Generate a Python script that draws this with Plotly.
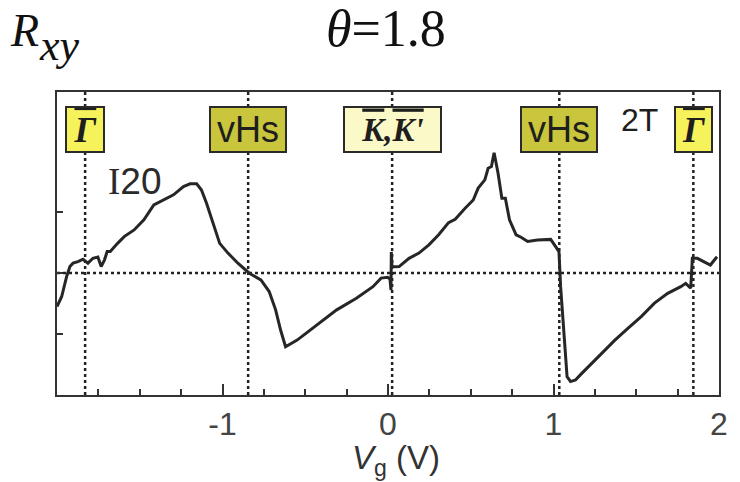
import plotly.graph_objects as go

# Gate voltage (V) and Hall resistance (arb., scale bar = 20)
vg = [-2.0, -1.972, -1.942, -1.922, -1.903, -1.873, -1.843, -1.813, -1.783, -1.753,
      -1.733, -1.713, -1.697, -1.678, -1.634, -1.594, -1.534, -1.475, -1.415, -1.355,
      -1.296, -1.236, -1.196, -1.156, -1.127, -1.097, -1.057, -1.017, -0.967, -0.907,
      -0.838, -0.768, -0.718, -0.679, -0.649, -0.619, -0.549, -0.430, -0.310, -0.191,
      -0.091, -0.042, -0.002, 0.012, 0.018, 0.020, 0.024, 0.040, 0.067, 0.127,
      0.187, 0.247, 0.306, 0.366, 0.406, 0.466, 0.515, 0.545, 0.585, 0.605,
      0.625, 0.641, 0.665, 0.688, 0.709, 0.734, 0.774, 0.804, 0.844, 0.903,
      0.963, 0.983, 1.013, 1.033, 1.043, 1.063, 1.082, 1.103, 1.133, 1.162,
      1.212, 1.291, 1.371, 1.451, 1.530, 1.610, 1.690, 1.769, 1.799, 1.829,
      1.839, 1.869, 1.948, 1.988]
rxy = [-11.0, -7.8, -1.2, 2.1, 3.2, 3.7, 4.5, 3.2, 4.8, 5.2,
       2.1, 4.3, 7.0, 7.0, 9.7, 11.9, 14.1, 17.4, 22.3, 23.9,
       25.6, 28.3, 29.2, 29.2, 27.2, 22.9, 16.3, 9.7, 6.5, 3.2,
       -0.1, -2.3, -6.1, -12.1, -18.7, -24.2, -22.0, -17.0, -12.1, -8.3,
       -4.5, -1.7, -1.4, -2.0, -5.6, 6.9, 2.2, 2.0, 2.1, 4.8,
       6.5, 9.2, 12.5, 16.5, 17.6, 21.2, 23.9, 27.8, 30.5, 34.3,
       34.9, 39.4, 32.7, 24.5, 24.5, 17.4, 12.5, 11.7, 10.3, 10.8,
       10.8, 11.0, 8.6, 7.0, -4.5, -20.9, -34.0, -35.6, -35.1, -33.4,
       -30.7, -26.3, -22.0, -18.1, -14.3, -9.9, -6.7, -4.5, -3.4, -5.0,
       4.8, 4.8, 2.6, 5.3]

# Special points (dotted markers) and their labels
OL = "<span style='text-decoration:overline'>{}</span>"
mark_v = [-1.830, -0.845, 0.025, 1.035, 1.845]
mark_labels = ["<b><i>" + OL.format("\u0393") + "</i></b>", "vHs",
               "<b><i>" + OL.format("K") + "," + OL.format("K'") + "</i></b>", "vHs",
               "<b><i>" + OL.format("\u0393") + "</i></b>"]
mark_colors = ["#f6f25c", "#c9c53c", "#fcf9c9", "#c9c53c", "#f6f25c"]
mark_fonts = ["Liberation Serif", "Liberation Sans", "Liberation Serif", "Liberation Sans", "Liberation Serif"]
mark_sizes = [36, 36, 33, 36, 36]
mark_widths = [36, 74, 95, 74, 35]

xtick_vals = [-1, 0, 1, 2]
xtick_text = ["-1", "0", "1", "2"]
ytick_vals = [-20, 0, 20]

fig = go.Figure()
fig.add_trace(go.Scatter(x=vg, y=rxy, mode="lines",
                         line=dict(color="#262626", width=3), showlegend=False))

for v in mark_v:
    fig.add_shape(type="line", xref="x", yref="paper", x0=v, x1=v, y0=0, y1=1,
                  line=dict(color="#222222", width=2.5, dash="dot"), layer="below")
fig.add_shape(type="line", xref="paper", yref="y", x0=0, x1=1, y0=0, y1=0,
              line=dict(color="#222222", width=2.5, dash="dot"), layer="below")

for v, lab, col, fnt, sz, w in zip(mark_v, mark_labels, mark_colors, mark_fonts, mark_sizes, mark_widths):
    fig.add_annotation(x=v, y=47.0, xref="x", yref="y", text=lab, showarrow=False,
                       bgcolor=col, bordercolor="#2a2a2a", borderwidth=2, borderpad=0,
                       width=w, height=43,
                       font=dict(family=fnt, size=sz, color="#1e1e1e"))

fig.add_annotation(x=1.52, y=50.0, xref="x", yref="y", text="2T", showarrow=False,
                   font=dict(family="Liberation Sans", size=32, color="#1e1e1e"))
fig.add_annotation(x=-1.53, y=30.0, xref="x", yref="y",
                   text="<span style='font-family:Liberation Serif'>I</span>20", showarrow=False,
                   font=dict(family="Liberation Sans", size=37, color="#2a2a2a"))

# Titles
fig.add_annotation(x=-0.074, y=1.0, xref="paper", yref="paper", xanchor="left", yanchor="top",
                   text="<i>R</i>", showarrow=False, yshift=89,
                   font=dict(family="Liberation Serif", size=46, color="#111"))
fig.add_annotation(x=-0.030, y=1.0, xref="paper", yref="paper", xanchor="left", yanchor="top",
                   text="<i>xy</i>", showarrow=False, yshift=73,
                   font=dict(family="Liberation Serif", size=44, color="#111"))
fig.add_annotation(x=0.497, y=1.0, xref="paper", yref="paper", xanchor="center", yanchor="top",
                   text="<i>\u03b8</i>=1.8", showarrow=False, yshift=94,
                   font=dict(family="Liberation Serif", size=52, color="#111"))
fig.add_annotation(x=0.048, y=0.0, xref="x", yref="paper", xanchor="center", yanchor="top",
                   text="<i>V</i><sub>g</sub> (V)", showarrow=False, yshift=-42,
                   font=dict(family="Liberation Sans", size=33, color="#333"))

fig.update_xaxes(range=[-2, 2], tickmode="array", tickvals=xtick_vals, ticktext=xtick_text,
                 ticks="inside", ticklen=11, tickwidth=2, tickcolor="#333",
                 minor=dict(tick0=0, dtick=0.25, ticks="inside", ticklen=6, tickwidth=2, tickcolor="#333"),
                 showgrid=False, zeroline=False, showline=True, mirror=True,
                 linecolor="#333", linewidth=2,
                 tickfont=dict(family="Liberation Sans", size=32, color="#444"))
fig.update_yaxes(range=[-40, 59.3], tickmode="array", tickvals=ytick_vals,
                 ticks="inside", ticklen=6, tickwidth=2, tickcolor="#333",
                 showticklabels=False, showgrid=False, zeroline=False,
                 showline=True, mirror=True, linecolor="#333", linewidth=2)

fig.update_layout(width=740, height=482, margin=dict(l=57, r=13, t=92, b=87),
                  plot_bgcolor="white", paper_bgcolor="white")

fig.write_html("out.html")
